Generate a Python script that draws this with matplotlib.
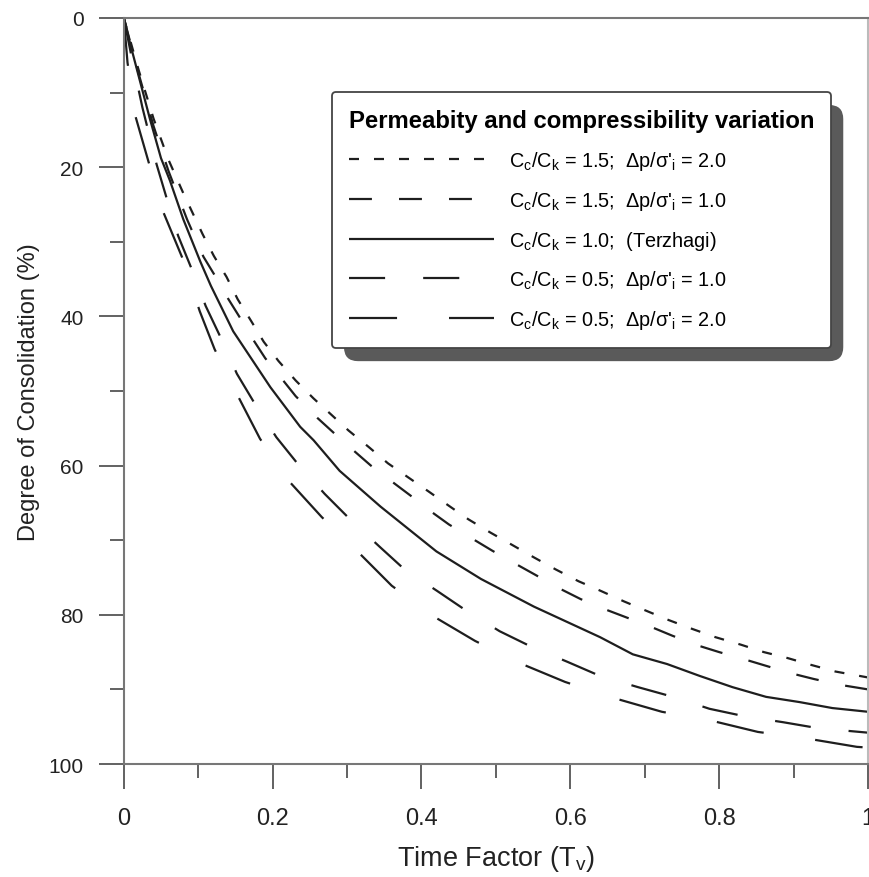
import matplotlib
matplotlib.use("Agg")
import matplotlib.pyplot as plt
from matplotlib.patches import FancyBboxPatch
from matplotlib.transforms import IdentityTransform
from matplotlib.ticker import MultipleLocator

plt.rcParams['font.family'] = ['Liberation Sans', 'DejaVu Sans']
plt.rcParams['lines.scale_dashes'] = False

# ---- data ----
tv_a = [0, 0.02, 0.04, 0.06, 0.08, 0.106, 0.121, 0.138, 0.153, 0.171, 0.188, 0.208, 0.231, 0.255,
        0.278, 0.302, 0.329, 0.355, 0.381, 0.41, 0.437, 0.463, 0.493, 0.523, 0.551, 0.58, 0.611,
        0.641, 0.672, 0.703, 0.732, 0.764, 0.795, 0.829, 0.86, 0.892, 0.923, 0.956, 1.0]
u_a = [0, 7.0, 13.5, 19.0, 23.5, 29.0, 31.9, 34.7, 37.7, 40.6, 43.4, 46.0, 48.6, 51.0,
       53.1, 55.3, 57.5, 59.7, 61.5, 63.5, 65.4, 67.2, 69.0, 70.7, 72.3, 73.9, 75.5,
       76.8, 78.2, 79.5, 80.7, 81.9, 83.0, 84.0, 85.0, 85.8, 86.7, 87.6, 88.4]

tv_b = [0, 0.02, 0.04, 0.06, 0.085, 0.107, 0.121, 0.14, 0.155, 0.175, 0.19, 0.215, 0.231, 0.26,
        0.282, 0.309, 0.332, 0.361, 0.385, 0.412, 0.437, 0.47, 0.495, 0.527, 0.554, 0.584, 0.614,
        0.645, 0.674, 0.708, 0.737, 0.771, 0.8, 0.835, 0.865, 0.899, 0.927, 0.963, 1.0]
u_b = [0, 7.5, 14.5, 20.5, 27.0, 32.0, 34.3, 37.6, 40.0, 43.3, 45.6, 48.7, 50.7, 53.6,
       55.6, 58.0, 60.0, 62.2, 64.0, 66.1, 67.9, 69.9, 71.4, 73.2, 74.7, 76.4, 77.9,
       79.2, 80.3, 81.6, 82.8, 84.1, 85.0, 86.0, 86.9, 87.9, 88.6, 89.4, 90.0]

tv_c = [0, 0.01, 0.02, 0.035, 0.05, 0.062, 0.08, 0.103, 0.117, 0.147, 0.197, 0.237, 0.255, 0.29,
        0.345, 0.42, 0.48, 0.551, 0.64, 0.684, 0.73, 0.774, 0.818, 0.863, 0.908, 0.952, 1.0]
u_c = [0, 4.0, 7.8, 13.5, 18.8, 21.8, 27.0, 32.7, 35.9, 42.0, 49.5, 54.8, 56.6, 60.7,
       65.5, 71.5, 75.2, 78.9, 83.0, 85.3, 86.6, 88.2, 89.7, 91.0, 91.7, 92.5, 93.0]

tv_d = [0, 0.01, 0.025, 0.044, 0.058, 0.073, 0.091, 0.11, 0.13, 0.152, 0.176, 0.205, 0.234, 0.27,
        0.304, 0.344, 0.377, 0.421, 0.461, 0.505, 0.548, 0.596, 0.64, 0.691, 0.738, 0.787, 0.834,
        0.886, 0.933, 1.0]
u_d = [0, 5.0, 12.0, 19.6, 24.3, 29.2, 33.6, 38.6, 42.8, 47.7, 51.7, 56.2, 59.8, 63.8,
       67.2, 70.9, 73.9, 76.8, 79.5, 82.2, 84.3, 86.3, 88.2, 89.7, 91.0, 92.6, 93.6,
       94.4, 95.2, 95.8]

tv_e = [0, 0.005, 0.016, 0.033, 0.053, 0.078, 0.102, 0.122, 0.154, 0.183, 0.223, 0.266, 0.315,
        0.36, 0.416, 0.472, 0.535, 0.593, 0.66, 0.723, 0.79, 0.852, 0.919, 0.985, 1.0]
u_e = [0, 6.0, 13.3, 19.2, 26.0, 32.0, 39.3, 44.4, 50.8, 56.4, 62.2, 66.9, 71.6,
       76.1, 80.2, 83.5, 86.6, 89.0, 91.2, 93.0, 94.2, 95.7, 96.6, 97.7, 97.8]

labels = [
    "C$_\\mathregular{c}$/C$_\\mathregular{k}$ = 1.5;  \u0394p/\u03c3'$_\\mathregular{i}$ = 2.0",
    "C$_\\mathregular{c}$/C$_\\mathregular{k}$ = 1.5;  \u0394p/\u03c3'$_\\mathregular{i}$ = 1.0",
    "C$_\\mathregular{c}$/C$_\\mathregular{k}$ = 1.0;  (Terzhagi)",
    "C$_\\mathregular{c}$/C$_\\mathregular{k}$ = 0.5;  \u0394p/\u03c3'$_\\mathregular{i}$ = 1.0",
    "C$_\\mathregular{c}$/C$_\\mathregular{k}$ = 0.5;  \u0394p/\u03c3'$_\\mathregular{i}$ = 2.0",
]
legend_title = "Permeabity and compressibility variation"
x_ticks = [0, 0.2, 0.4, 0.6, 0.8, 1]
x_ticklabels = ["0", "0.2", "0.4", "0.6", "0.8", "1"]
y_ticks = [0, 20, 40, 60, 80, 100]

# ---- figure ----
fig = plt.figure(figsize=(8.7, 8.78), dpi=100)
ax = fig.add_axes([0.1423, 0.1287, 0.8554, 0.8497])

lc = '#1e1e1e'
lw = 1.6
styles = [(0, (7.2, 10.8)), (0, (16.5, 19.5)), '-', (0, (26, 27.4)), (0, (34.6, 37.4))]
series = [(tv_a, u_a), (tv_b, u_b), (tv_c, u_c), (tv_d, u_d), (tv_e, u_e)]
for (x, y), ls, lab in zip(series, styles, labels):
    ax.plot(x, y, color=lc, lw=lw, linestyle=ls, label=lab, solid_capstyle='butt',
            dash_capstyle='butt', clip_on=True)

ax.set_xlim(0, 1)
ax.set_ylim(100, 0)
ax.set_xticks(x_ticks)
ax.set_xticklabels(x_ticklabels)
ax.set_yticks(y_ticks)
ax.xaxis.set_minor_locator(MultipleLocator(0.1))
ax.yaxis.set_minor_locator(MultipleLocator(10))

spc = '#777777'
for s in ['left', 'bottom', 'top', 'right']:
    ax.spines[s].set_color(spc)
    ax.spines[s].set_linewidth(1.5)
ax.spines['right'].set_color('#bbbbbb')

ax.tick_params(which='major', direction='out', length=18, width=1.3, color='#555555',
               labelcolor='#222222')
ax.tick_params(which='minor', direction='out', length=10, width=1.3, color='#555555')
ax.tick_params(axis='x', which='major', labelsize=17, pad=13)
ax.tick_params(axis='y', which='major', labelsize=15, pad=11)
ax.tick_params(axis='x', which='both', top=False)
ax.tick_params(axis='y', which='both', right=False)

ax.set_xlabel("Time Factor (T$_\\mathregular{v}$)", fontsize=19.5, labelpad=10, color='#222222')
ax.set_ylabel("Degree of Consolidation (%)", fontsize=17, labelpad=6, color='#222222')

leg = ax.legend(loc='upper left', bbox_to_anchor=(0.3816, 0.8941), bbox_transform=fig.transFigure,
                borderaxespad=0, fontsize=14.3, title=legend_title,
                title_fontproperties={'weight': 'bold', 'size': 17.2},
                handlelength=7.3, handletextpad=0.75, labelspacing=0.85, borderpad=0.85,
                fancybox=True, framealpha=1, edgecolor='#444444', facecolor='white')
leg.get_frame().set_linewidth(1.3)
leg._legend_box.align = "left"
leg.set_zorder(6)

fig.canvas.draw()
bb = leg.get_window_extent()
shadow = FancyBboxPatch((bb.x0 + 12, bb.y0 - 13), bb.width, bb.height,
                        boxstyle="round,pad=0,rounding_size=14", transform=IdentityTransform(),
                        facecolor='#5a5a5a', edgecolor='none', zorder=5)
ax.add_artist(shadow)

fig.savefig("out.png", dpi=100, facecolor='white')
